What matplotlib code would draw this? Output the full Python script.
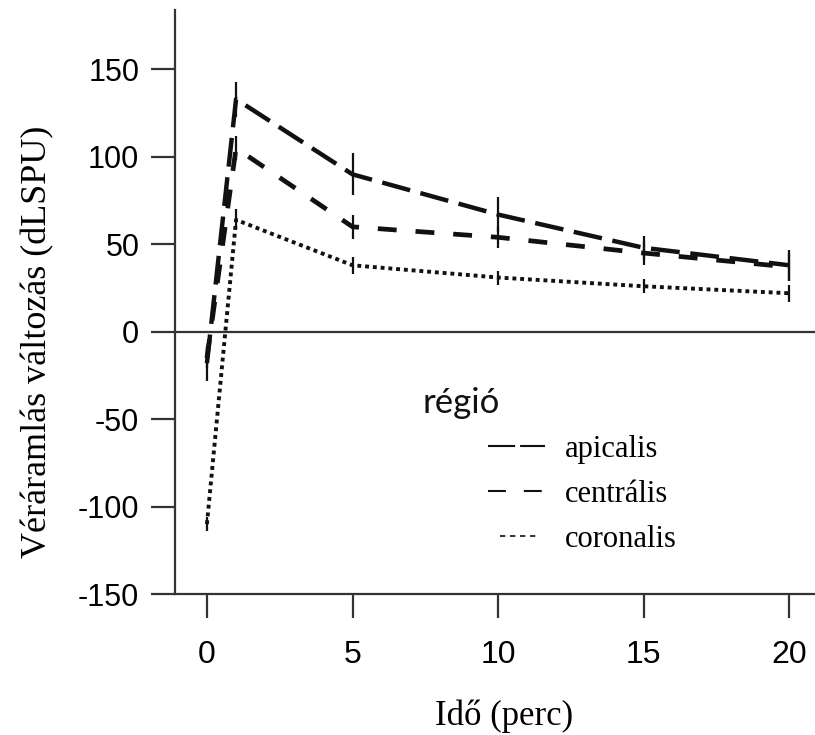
import matplotlib
matplotlib.use("Agg")
import matplotlib.pyplot as plt
from matplotlib.lines import Line2D

# idő (perc) és véráramlás változás régiónként
times = [0, 1, 5, 10, 15, 20]
apicalis = [-18, 133, 90, 67, 48, 38]
apicalis_err = [10, 10, 12, 10, 7, 9]
centralis = [-15, 105, 60, 54, 45, 37]
centralis_err = [6, 7, 7, 6, 7, 8]
coronalis = [-110, 64, 38, 31, 26, 22]
coronalis_err = [4, 6, 5, 4, 4, 5]

series_names = ["apicalis", "centrális", "coronalis"]
y_ticks = [-150, -100, -50, 0, 50, 100, 150]
y_tick_labels = ["-150", "-100", "-50", "0", "50", "100", "150"]
x_ticks = [0, 5, 10, 15, 20]

ink = "#111111"
axis_col = "#333333"

fig = plt.figure(figsize=(8.15, 7.35), dpi=100)
ax = fig.add_axes([0.2153, 0.1918, 0.7847, 0.7946])

# error bars first, lines on top
for vals, errs in [(apicalis, apicalis_err), (centralis, centralis_err), (coronalis, coronalis_err)]:
    ax.errorbar(times, vals, yerr=errs, fmt="none", ecolor=ink, elinewidth=1.6, capsize=0, zorder=2)

ax.plot(times, apicalis, color=ink, lw=3.2, dashes=(6.5, 2.4), zorder=3)
ax.plot(times, centralis, color=ink, lw=3.4, dashes=(4.0, 4.0), zorder=3)
ax.plot(times, coronalis, color=ink, lw=2.8, dashes=(1.0, 1.0), zorder=3)

ax.axhline(0, color=axis_col, lw=1.6, zorder=1)

ax.set_xlim(-1.08, 20.88)
ax.set_ylim(-150, 184)

ax.spines["top"].set_visible(False)
ax.spines["right"].set_visible(False)
for s in ["left", "bottom"]:
    ax.spines[s].set_linewidth(1.6)
    ax.spines[s].set_color(axis_col)

ax.set_yticks(y_ticks, y_tick_labels, fontfamily="Liberation Sans", fontsize=22)
ax.set_xticks(x_ticks, [str(t) for t in x_ticks], fontfamily="Liberation Sans", fontsize=23)
ax.tick_params(axis="both", direction="out", length=17, width=1.6, color=axis_col)
ax.tick_params(axis="y", pad=9)
ax.tick_params(axis="x", pad=16)

ax.set_xlabel("Idő (perc)", fontfamily="Liberation Serif", fontsize=25)
ax.xaxis.set_label_coords(0.514, -0.181)
ax.set_ylabel("Véráramlás változás (dLSPU)", fontfamily="Liberation Serif", fontsize=26)
ax.yaxis.label.set_va("center")
ax.yaxis.set_label_coords(-0.215, 0.4315)

# legend: thin sample lines like the original key
handles = [
    Line2D([], [], color=ink, lw=1.5, dashes=(13, 2.4)),
    Line2D([], [], color=ink, lw=1.5, dashes=(8.6, 8.6)),
    Line2D([], [], color=ink, lw=1.2,
           linestyle=(40.0, (3.2, 2.8, 3.2, 2.8, 3.2, 2.8, 3.2, 26.0))),
]
ax.text(0.3855, 0.327, "régió", transform=ax.transAxes, fontfamily="Lato",
        fontsize=25, va="center", ha="left", color=ink)
ax.legend(handles, series_names, loc="upper left", bbox_to_anchor=(0.4887, 0.272),
          frameon=False, prop={"family": "Liberation Serif", "size": 22},
          handlelength=1.87, handletextpad=0.65, labelspacing=0.52,
          borderpad=0, borderaxespad=0)

fig.savefig("out.png", dpi=100)
